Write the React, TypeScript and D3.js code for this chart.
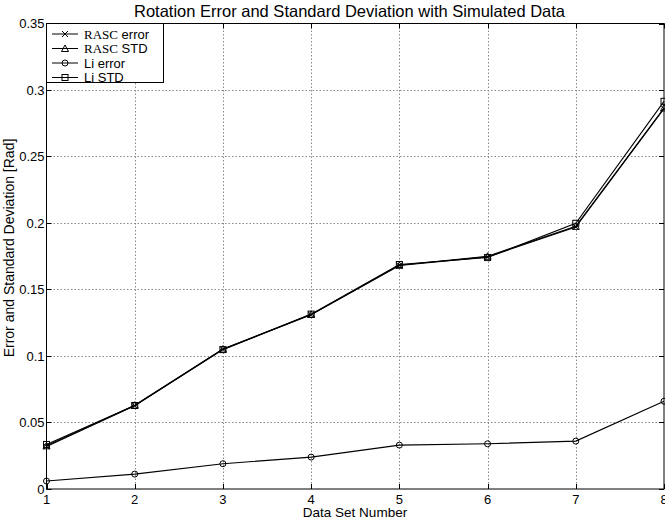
import React from "react";
import * as d3 from "d3";

const dataSets = [1, 2, 3, 4, 5, 6, 7, 8];
const rascError = [0.032, 0.0625, 0.105, 0.131, 0.168, 0.1745, 0.197, 0.286];
const rascStd = [0.0325, 0.063, 0.1052, 0.1312, 0.1682, 0.175, 0.1975, 0.2865];
const liError = [0.006, 0.0112, 0.019, 0.024, 0.033, 0.034, 0.036, 0.066];
const liStd = [0.0335, 0.0628, 0.1048, 0.1315, 0.1688, 0.174, 0.1998, 0.2915];
const yTicks = [0, 0.05, 0.1, 0.15, 0.2, 0.25, 0.3, 0.35];
const yTickLabels = ["0", "0.05", "0.1", "0.15", "0.2", "0.25", "0.3", "0.35"];
const seriesNames = ["error", "STD", "error", "STD"];
const seriesPrefix = ["RASC", "RASC", "Li", "Li"];
const markers = ["x", "triangle", "circle", "square"];

const W = 665, H = 522;
const L = 46.5, R = 664, T = 23.5, B = 489;
const FONT = "Arial, 'Liberation Sans', Helvetica, sans-serif";

function Marker({ type, x, y }: { type: string; x: number; y: number }) {
  const s = 3;
  if (type === "x")
    return (
      <g stroke="#000" strokeWidth={1}>
        <line x1={x - s} y1={y - s} x2={x + s} y2={y + s} />
        <line x1={x - s} y1={y + s} x2={x + s} y2={y - s} />
      </g>
    );
  if (type === "triangle")
    return <path d={`M${x},${y - s - 0.5}L${x + s + 0.5},${y + s}L${x - s - 0.5},${y + s}Z`} fill="none" stroke="#000" />;
  if (type === "circle") return <circle cx={x} cy={y} r={s} fill="none" stroke="#000" />;
  return <rect x={x - s} y={y - s} width={2 * s} height={2 * s} fill="none" stroke="#000" />;
}

export default function App() {
  const x = d3.scaleLinear().domain([1, 8]).range([L, R]);
  const y = d3.scaleLinear().domain([0, 0.35]).range([B, T]);
  const series = [rascError, rascStd, liError, liStd];
  const line = d3
    .line<number>()
    .x((_, i) => x(dataSets[i]))
    .y((d) => y(d));

  const legendRows = [34, 48.5, 63, 77.5];

  return (
    <svg width={W} height={H} style={{ position: "absolute", left: 0, top: 0, background: "#fff" }}>
      <rect x={0} y={0} width={W} height={H} fill="#fff" />
      {/* grid */}
      <g stroke="#888" strokeWidth={1} strokeDasharray="1.5,2">
        {dataSets.slice(1, -1).map((d) => (
          <line key={"gx" + d} x1={Math.round(x(d)) + 0.5} x2={Math.round(x(d)) + 0.5} y1={T} y2={B} />
        ))}
        {yTicks.slice(1, -1).map((d) => (
          <line key={"gy" + d} x1={L} x2={R} y1={Math.round(y(d)) + 0.5} y2={Math.round(y(d)) + 0.5} />
        ))}
      </g>
      {/* frame */}
      <rect x={L} y={T} width={R - L} height={B - T} fill="none" stroke="#000" strokeWidth={1} />
      {/* ticks */}
      <g stroke="#000" strokeWidth={1}>
        {dataSets.map((d) => (
          <g key={"tx" + d}>
            <line x1={Math.round(x(d)) + 0.5} x2={Math.round(x(d)) + 0.5} y1={B} y2={B - 5} />
            <line x1={Math.round(x(d)) + 0.5} x2={Math.round(x(d)) + 0.5} y1={T} y2={T + 5} />
          </g>
        ))}
        {yTicks.map((d) => (
          <g key={"ty" + d}>
            <line x1={L} x2={L + 5} y1={Math.round(y(d)) + 0.5} y2={Math.round(y(d)) + 0.5} />
            <line x1={R} x2={R - 5} y1={Math.round(y(d)) + 0.5} y2={Math.round(y(d)) + 0.5} />
          </g>
        ))}
      </g>
      {/* tick labels */}
      <g fontFamily={FONT} fontSize={13} fill="#000">
        {dataSets.map((d) => (
          <text key={"lx" + d} x={x(d)} y={B + 14.5} textAnchor="middle">
            {d}
          </text>
        ))}
        {yTicks.map((d, i) => (
          <text key={"ly" + d} x={L - 2} y={y(d) + 4.5} textAnchor="end">
            {yTickLabels[i]}
          </text>
        ))}
      </g>
      {/* series */}
      {series.map((s, si) => (
        <g key={"s" + si}>
          <path d={line(s) || ""} fill="none" stroke="#000" strokeWidth={1.1} />
          {s.map((v, i) => (
            <Marker key={i} type={markers[si]} x={x(dataSets[i])} y={y(v)} />
          ))}
        </g>
      ))}
      {/* title & labels */}
      <text x={349.5} y={17} textAnchor="middle" fontFamily={FONT} fontSize={16.5} fill="#000">
        Rotation Error and Standard Deviation with Simulated Data
      </text>
      <text x={355} y={517} textAnchor="middle" fontFamily={FONT} fontSize={13.5} fill="#000">
        Data Set Number
      </text>
      <text
        transform={`translate(14,248) rotate(-90)`}
        textAnchor="middle"
        fontFamily={FONT}
        fontSize={14}
        fill="#000"
      >
        Error and Standard Deviation [Rad]
      </text>
      {/* legend */}
      <rect x={L} y={T} width={117} height={59} fill="#fff" stroke="#000" strokeWidth={1} />
      {legendRows.map((ry, i) => (
        <g key={"lg" + i}>
          <line x1={52} x2={78} y1={ry} y2={ry} stroke="#000" strokeWidth={1} />
          <Marker type={markers[i]} x={65} y={ry} />
          <text x={84} y={ry + 4.5} fontSize={13} fill="#000">
            {seriesPrefix[i] === "RASC" ? (
              <>
                <tspan fontFamily="'Liberation Serif', 'Times New Roman', serif">RASC</tspan>
                <tspan fontFamily={FONT}>{" " + seriesNames[i]}</tspan>
              </>
            ) : (
              <tspan fontFamily={FONT}>{seriesPrefix[i] + " " + seriesNames[i]}</tspan>
            )}
          </text>
        </g>
      ))}
    </svg>
  );
}
